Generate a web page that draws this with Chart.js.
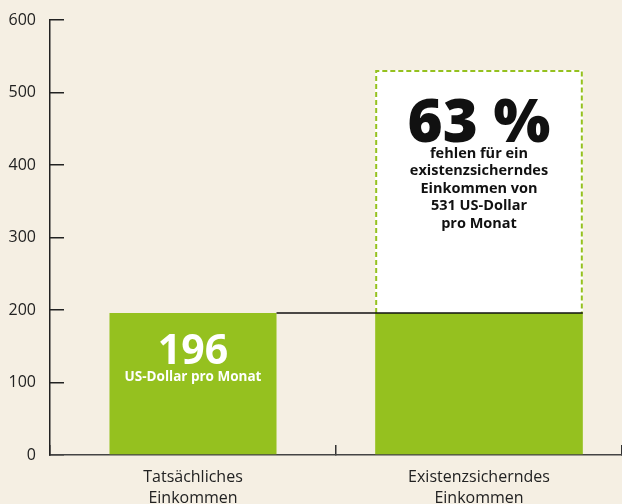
<!DOCTYPE html>
<html>
<head>
<meta charset="utf-8">
<script src="https://cdn.jsdelivr.net/npm/chart.js@4"></script>
<style>
  html, body { margin: 0; padding: 0; background: #f5efe3; }
  #wrap { width: 622px; height: 504px; }
</style>
</head>
<body>
<div id="wrap"><canvas id="myChart" width="622" height="504"></canvas></div>
<script>
// data
const categories = [['Tatsächliches', 'Einkommen'], ['Existenzsicherndes', 'Einkommen']];
const actualIncome = 196;   // US-Dollar pro Monat
const livingIncome = 531;   // existenzsicherndes Einkommen
const gapPercent = 63;
const yTicks = [0, 100, 200, 300, 400, 500, 600];

const green = '#95c11f';
const ink = '#222222';

// labels inside the bars, anchored to the bar elements
const barTextPlugin = {
    id: 'barText',
    afterDatasetsDraw(chart) {
        const ctx = chart.ctx;
        const y = chart.scales.y;
        const bar1 = chart.getDatasetMeta(0).data[0];
        const bar2 = chart.getDatasetMeta(1).data[1];
        const gap = chart.getDatasetMeta(2).data[1];

        ctx.save();
        // dashed outline of the missing part
        const l = gap.x - gap.width / 2 + 1, r = gap.x + gap.width / 2 - 1;
        ctx.strokeStyle = green;
        ctx.lineWidth = 2;
        ctx.setLineDash([5, 3]);
        ctx.beginPath();
        ctx.moveTo(l, gap.base);
        ctx.lineTo(l, gap.y + 1);
        ctx.lineTo(r, gap.y + 1);
        ctx.lineTo(r, gap.base);
        ctx.stroke();
        ctx.setLineDash([]);

        // line at the actual income level
        const py = y.getPixelForValue(actualIncome);
        ctx.strokeStyle = '#111';
        ctx.lineWidth = 1.5;
        ctx.beginPath();
        ctx.moveTo(bar1.x + bar1.width / 2, py);
        ctx.lineTo(bar2.x + bar2.width / 2, py);
        ctx.stroke();

        ctx.textAlign = 'center';
        ctx.textBaseline = 'alphabetic';
        ctx.fillStyle = '#ffffff';
        ctx.font = 'bold 41px "Open Sans"';
        ctx.fillText(String(actualIncome), bar1.x, bar1.y + 51);
        ctx.font = 'bold 13.5px "Open Sans"';
        ctx.fillText('US-Dollar pro Monat', bar1.x, bar1.y + 68);

        ctx.fillStyle = '#111';
        ctx.font = '800 60px "Open Sans"';
        ctx.fillText(gapPercent + ' %', gap.x, gap.y + 72);
        const lines = ['fehlen für ein', 'existenzsicherndes', 'Einkommen von', livingIncome + ' US-Dollar', 'pro Monat'];
        ctx.font = 'bold 14.5px "Open Sans"';
        lines.forEach((t, i) => ctx.fillText(t, gap.x, gap.y + 88 + i * 17.4));
        ctx.restore();
    }
};

const ctx = document.getElementById('myChart').getContext('2d');
const myChart = new Chart(ctx, {
    type: 'bar',
    data: {
        labels: categories,
        datasets: [
            {
                label: 'Tatsächliches Einkommen',
                data: [actualIncome, null],
                backgroundColor: green,
                barPercentage: 0.584,
                categoryPercentage: 1,
                grouped: false
            },
            {
                label: 'Existenzsicherndes Einkommen (gedeckt)',
                data: [null, actualIncome],
                backgroundColor: green,
                barPercentage: 0.726,
                categoryPercentage: 1,
                grouped: false
            },
            {
                label: 'Fehlbetrag',
                data: [null, [actualIncome, livingIncome]],
                backgroundColor: '#ffffff',
                barPercentage: 0.726,
                categoryPercentage: 1,
                grouped: false
            }
        ]
    },
    options: {
        responsive: false,
        animation: false,
        layout: { padding: 0 },
        plugins: { legend: { display: false }, tooltip: { enabled: false } },
        scales: {
            x: {
                offset: true,
                grid: { offset: true, drawOnChartArea: false, tickLength: -10, color: '#333', lineWidth: 1.5 },
                border: { color: '#444', width: 1.5 },
                ticks: { color: ink, font: { family: 'Open Sans', size: 16, lineHeight: 1.3 }, padding: 22, maxRotation: 0 },
                afterFit: (axis) => { axis.height = 49; }
            },
            y: {
                min: 0,
                max: 600,
                afterBuildTicks: (axis) => { axis.ticks = yTicks.map(v => ({ value: v })); },
                grid: { drawOnChartArea: false, tickLength: -14, color: '#222', lineWidth: 1.5 },
                border: { color: '#222', width: 1.5 },
                ticks: { color: ink, font: { family: 'Open Sans', size: 16 }, padding: 28 },
                afterFit: (axis) => {
                    axis.width = 50;
                    axis.paddingTop = 20;
                    axis.paddingBottom = 0;
                }
            }
        }
    },
    plugins: [barTextPlugin]
});
</script>
</body>
</html>
